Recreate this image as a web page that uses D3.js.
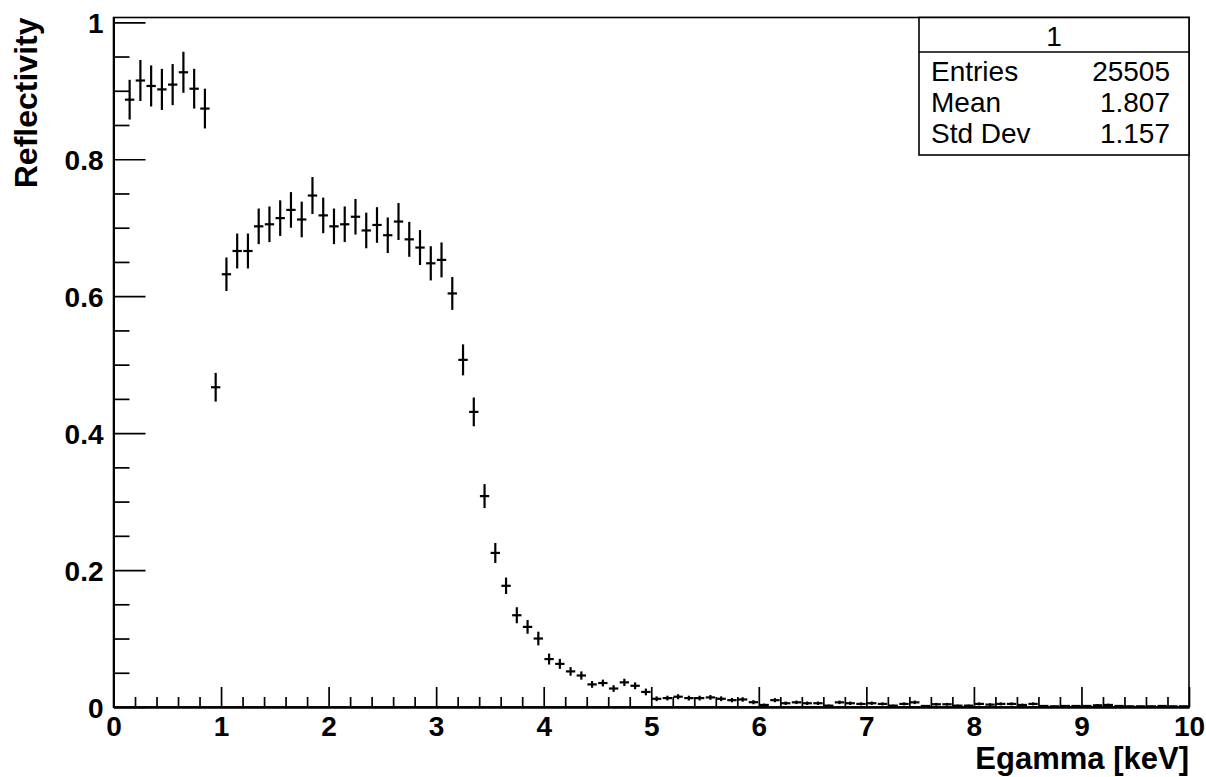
<!DOCTYPE html>
<html>
<head>
<meta charset="utf-8">
<script src="https://cdn.jsdelivr.net/npm/d3@7"></script>
<style>
  body { margin: 0; background: #fff; }
  svg text { font-family: "Liberation Sans", Arial, Helvetica, sans-serif; }
</style>
</head>
<body>
<svg id="chart" width="1206" height="777"></svg>
<script>
// histogram definition: 100 bins of 0.1 keV, first filled bin is [0.1, 0.2]
const binWidth = 0.1;
const firstBinLow = 0.1;

// bin contents
const values = [
  0.887, 0.915, 0.907, 0.902, 0.909, 0.927, 0.903, 0.874, 0.467, 0.632,
  0.666, 0.666, 0.702, 0.705, 0.714, 0.726, 0.712, 0.747, 0.718, 0.702,
  0.705, 0.716, 0.696, 0.704, 0.689, 0.709, 0.683, 0.671, 0.648, 0.653,
  0.604, 0.507, 0.431, 0.308, 0.225, 0.177, 0.134, 0.117, 0.100, 0.070,
  0.063, 0.052, 0.046, 0.033, 0.035, 0.027, 0.036, 0.031, 0.022, 0.012,
  0.013, 0.015, 0.013, 0.013, 0.014, 0.012, 0.010, 0.011, 0.007, 0.003,
  0.010, 0.0055, 0.0068, 0.0055, 0.0055, 0.002, 0.0068, 0.0055, 0.0045, 0.0055,
  0.0045, 0.002, 0.0045, 0.0068, 0.0015, 0.004, 0.004, 0.002, 0.002, 0.0045,
  0.0035, 0.0045, 0.0045, 0.003, 0.0045, 0.0015, 0.001, 0.0015, 0.0015, 0.0015,
  0.0025, 0.003, 0.0015, 0.001, 0.001, 0.001, 0.0015, 0.001, 0.001
];

// statistical errors
const errors = [
  0.029, 0.030, 0.030, 0.030, 0.030, 0.030, 0.029, 0.029, 0.021, 0.0245,
  0.0255, 0.0255, 0.026, 0.026, 0.026, 0.026, 0.026, 0.027, 0.026, 0.026,
  0.026, 0.026, 0.026, 0.026, 0.026, 0.027, 0.0255, 0.0255, 0.025, 0.0255,
  0.024, 0.0226, 0.021, 0.0175, 0.0146, 0.012, 0.0117, 0.010, 0.010, 0.008,
  0.0073, 0.0063, 0.006, 0.0049, 0.005, 0.0049, 0.0053, 0.005, 0.0049, 0.0035,
  0.0035, 0.0037, 0.0035, 0.0035, 0.0035, 0.0035, 0.0032, 0.0033, 0.003, 0.002,
  0.003, 0.0025, 0.0026, 0.0025, 0.0025, 0.0015, 0.0026, 0.0025, 0.0022, 0.0025,
  0.0022, 0.0015, 0.0022, 0.0026, 0.0013, 0.002, 0.002, 0.0015, 0.0015, 0.0022,
  0.002, 0.0022, 0.0022, 0.0018, 0.0022, 0.0013, 0.001, 0.0013, 0.0013, 0.0013,
  0.0017, 0.0018, 0.0013, 0.001, 0.001, 0.001, 0.0013, 0.001, 0.001
];

const xTicks = [0, 1, 2, 3, 4, 5, 6, 7, 8, 9, 10];
const yTicks = [0, 0.2, 0.4, 0.6, 0.8, 1];
const yTickLabels = ["0", "0.2", "0.4", "0.6", "0.8", "1"];

const statsTitle = "1";
const statsRows = [
  ["Entries", "25505"],
  ["Mean", "1.807"],
  ["Std Dev", "1.157"]
];

const xTitle = "Egamma [keV]";
const yTitle = "Reflectivity";

/* ---------- layout ---------- */
const frame = { left: 113.5, right: 1189, top: 17.5, bottom: 707 };

const svg = d3.select("#chart");

const x = d3.scaleLinear().domain([0, 10]).range([frame.left, frame.right]);
const y = d3.scaleLinear().domain([0, 1.007]).range([frame.bottom, frame.top]);

const bins = values.map((v, i) => ({
  c: firstBinLow + (i + 0.5) * binWidth,
  v: v,
  e: errors[i]
}));

/* --- frame --- */
svg.append("rect")
  .attr("x", frame.left).attr("y", frame.top)
  .attr("width", frame.right - frame.left)
  .attr("height", frame.bottom - frame.top)
  .attr("fill", "none").attr("stroke", "#000").attr("stroke-width", 1.6);

/* --- axes --- */
const xMinor = d3.range(0, 50).map((i) => i * 0.2).filter((d) => Math.abs(d % 1) > 1e-6);
const yMinor = d3.range(0, 21).map((i) => i * 0.05).filter((d, i) => i % 4 !== 0);

function styleAxis(g) {
  g.select(".domain").attr("stroke-width", 2);
  g.selectAll(".tick line").attr("stroke-width", 1.7);
  g.selectAll("text")
    .attr("font-size", 28).attr("font-weight", "bold").attr("fill", "#000");
}

svg.append("g")
  .attr("transform", `translate(0,${frame.bottom})`)
  .call(d3.axisBottom(x).tickValues(xTicks).tickFormat(d3.format("d"))
    .tickSize(-20).tickPadding(9).tickSizeOuter(0))
  .call(styleAxis);

svg.append("g")
  .attr("transform", `translate(0,${frame.bottom})`)
  .call(d3.axisBottom(x).tickValues(xMinor).tickFormat("").tickSize(-10).tickSizeOuter(0))
  .call(styleAxis);

svg.append("g")
  .attr("transform", `translate(${frame.left},0)`)
  .call(d3.axisLeft(y).tickValues(yTicks).tickFormat((d, i) => yTickLabels[i])
    .tickSize(-32).tickPadding(10).tickSizeOuter(0))
  .call(styleAxis)
  .selectAll("text").attr("dy", "0.36em");

svg.append("g")
  .attr("transform", `translate(${frame.left},0)`)
  .call(d3.axisLeft(y).tickValues(yMinor).tickFormat("").tickSize(-16).tickSizeOuter(0))
  .call(styleAxis);

/* --- titles --- */
svg.append("text")
  .attr("x", frame.right).attr("y", 769)
  .attr("text-anchor", "end")
  .attr("font-size", 31).attr("font-weight", "bold")
  .text(xTitle);

svg.append("text")
  .attr("transform", `translate(37,${frame.top}) rotate(-90)`)
  .attr("text-anchor", "end")
  .attr("font-size", 32).attr("font-weight", "bold")
  .text(yTitle);

/* --- error-bar crosses --- */
const marks = svg.append("g").attr("stroke", "#000").attr("stroke-width", 2.2);
const halfPx = (x(binWidth) - x(0)) / 2 - 0.7;

marks.selectAll("line.ey")
  .data(bins)
  .join("line")
  .attr("class", "ey")
  .attr("x1", (d) => x(d.c)).attr("x2", (d) => x(d.c))
  .attr("y1", (d) => y(Math.max(0, d.v - d.e)))
  .attr("y2", (d) => y(d.v + d.e));

marks.selectAll("line.ex")
  .data(bins)
  .join("line")
  .attr("class", "ex")
  .attr("x1", (d) => x(d.c) - halfPx).attr("x2", (d) => x(d.c) + halfPx)
  .attr("y1", (d) => y(d.v)).attr("y2", (d) => y(d.v));

/* --- stats box --- */
const box = { left: 919, right: frame.right, top: frame.top, bottom: 155, header: 52 };
const sg = svg.append("g");
sg.append("rect")
  .attr("x", box.left).attr("y", box.top)
  .attr("width", box.right - box.left).attr("height", box.bottom - box.top)
  .attr("fill", "#fff").attr("stroke", "#000").attr("stroke-width", 1.6);
sg.append("line")
  .attr("x1", box.left).attr("x2", box.right)
  .attr("y1", box.header).attr("y2", box.header)
  .attr("stroke", "#000").attr("stroke-width", 1.6);
sg.append("text")
  .attr("x", (box.left + box.right) / 2).attr("y", 46)
  .attr("text-anchor", "middle").attr("font-size", 28)
  .text(statsTitle);

const rowY = d3.scalePoint().domain(statsRows.map((r) => r[0])).range([81, 143]);
statsRows.forEach(([label, val]) => {
  sg.append("text")
    .attr("x", box.left + 12).attr("y", rowY(label))
    .attr("font-size", 28).text(label);
  sg.append("text")
    .attr("x", box.right - 19).attr("y", rowY(label))
    .attr("text-anchor", "end").attr("font-size", 28).text(val);
});
</script>
</body>
</html>
